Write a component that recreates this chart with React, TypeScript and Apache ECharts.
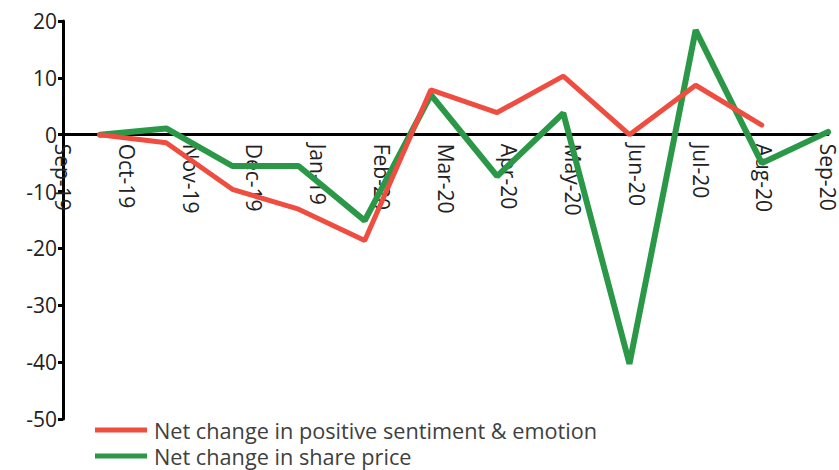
import React, { useEffect, useRef } from "react";
import * as echarts from "echarts";

const axisLabels = ["Sep-19", "Oct-19", "Nov-19", "Dec-19", "Jan-19", "Feb-20", "Mar-20", "Apr-20", "May-20", "Jun-20", "Jul-20", "Aug-20", "Sep-20"];
const dataMonths = ["Oct-19", "Nov-19", "Dec-19", "Jan-19", "Feb-20", "Mar-20", "Apr-20", "May-20", "Jun-20", "Jul-20", "Aug-20", "Sep-20"];
const sentiment = [0, -1.4, -9.6, -13.1, -18.6, 7.9, 3.9, 10.3, 0, 8.7, 1.7, null];
const sharePrice = [0, 1.1, -5.5, -5.5, -15.1, 7.0, -7.3, 3.8, -40.3, 18.4, -5.0, 0.5];
const yTicks = { min: -50, max: 20, interval: 10 };

const FONT = "'Open Sans', 'Noto Sans', sans-serif";
const TOP = 21;
const BOTTOM = 51;
const PLOT_H = 470 - TOP - BOTTOM;
const zeroFromBottom = 470 - (TOP + (PLOT_H * yTicks.max) / (yTicks.max - yTicks.min));

export default function App() {
  const ref = useRef<HTMLDivElement>(null);
  useEffect(() => {
    if (!ref.current) return;
    const chart = echarts.init(ref.current, undefined, { renderer: "svg" });
    const g = { outerBoundsMode: "none", containLabel: false };
    chart.setOption({
      animation: false,
      textStyle: { fontFamily: FONT },
      grid: [
        { left: 100, right: 11, top: TOP, bottom: BOTTOM, ...g },
        { left: 63, right: 11, top: TOP, bottom: BOTTOM, ...g },
        { left: 63, right: 11, top: TOP, bottom: zeroFromBottom, ...g },
      ],
      xAxis: [
        { type: "category", gridIndex: 0, data: dataMonths, boundaryGap: false, show: false },
        { type: "category", gridIndex: 1, data: axisLabels, boundaryGap: false, show: false },
        {
          type: "category",
          gridIndex: 2,
          data: axisLabels,
          boundaryGap: false,
          position: "bottom",
          axisLine: { onZero: false, lineStyle: { color: "#000", width: 3 } },
          axisTick: { show: false },
          axisLabel: { rotate: -90, margin: 9, color: "#222", fontSize: 21, fontFamily: FONT, interval: 0, hideOverlap: false },
          splitLine: { show: false },
        },
      ],
      yAxis: [
        { type: "value", gridIndex: 0, min: yTicks.min, max: yTicks.max, interval: yTicks.interval, show: false },
        {
          type: "value",
          gridIndex: 1,
          min: yTicks.min,
          max: yTicks.max,
          interval: yTicks.interval,
          axisLine: { show: true, lineStyle: { color: "#000", width: 3 } },
          axisTick: { show: true, length: 5, lineStyle: { color: "#000", width: 3 } },
          axisLabel: { color: "#222", fontSize: 21, margin: 6, fontFamily: FONT },
          splitLine: { show: false },
        },
        { type: "value", gridIndex: 2, min: 0, max: yTicks.max, show: false },
      ],
      legend: {
        orient: "vertical",
        left: 95,
        top: 419,
        padding: 0,
        itemWidth: 52,
        itemHeight: 5,
        itemGap: 4,
        icon: "rect",
        textStyle: { color: "#404040", fontSize: 21.7, fontFamily: FONT, lineHeight: 22, padding: [0, 0, 0, 2] },
        data: ["Net change in positive sentiment & emotion", "Net change in share price"],
      },
      series: [
        {
          name: "Net change in positive sentiment & emotion",
          type: "line",
          xAxisIndex: 0,
          yAxisIndex: 0,
          data: sentiment,
          symbol: "none",
          color: "#EE4D3F",
          lineStyle: { width: 5, color: "#EE4D3F", cap: "round" },
          z: 3,
        },
        {
          name: "Net change in share price",
          type: "line",
          xAxisIndex: 0,
          yAxisIndex: 0,
          data: sharePrice,
          symbol: "none",
          color: "#2A9847",
          lineStyle: { width: 6, color: "#2A9847", cap: "round" },
          z: 2,
        },
      ],
    });
    return () => chart.dispose();
  }, []);
  return <div ref={ref} style={{ width: 839, height: 470, position: "absolute", left: 0, top: 0 }} />;
}
